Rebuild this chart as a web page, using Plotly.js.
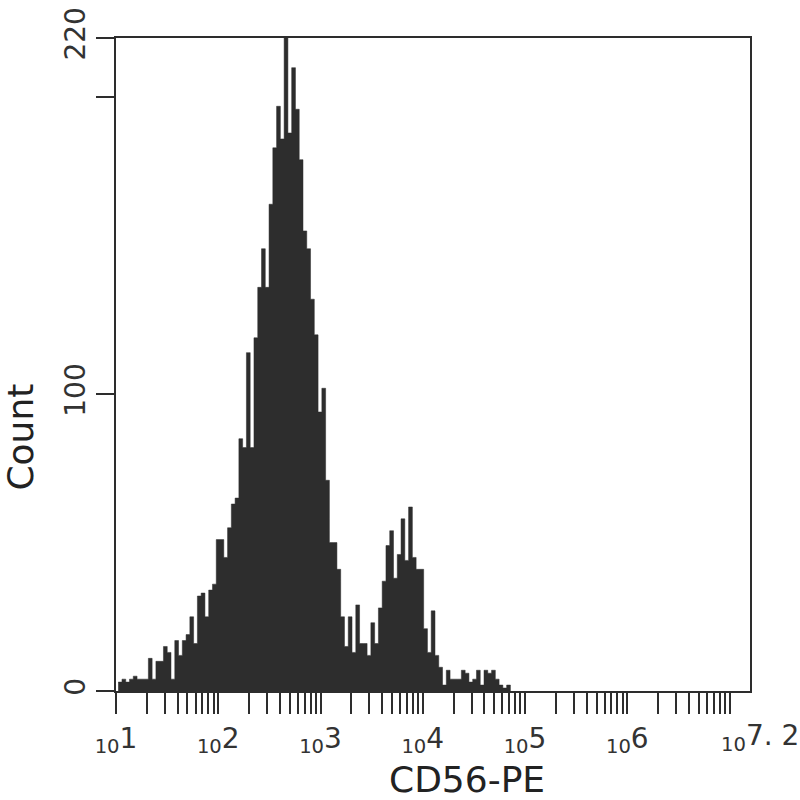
<!DOCTYPE html>
<html>
<head>
<meta charset="utf-8">
<script src="https://cdn.plot.ly/plotly-3.0.1.min.js"></script>
<style>html,body{margin:0;padding:0;background:#fff;}#chart{width:800px;height:800px;}</style>
</head>
<body>
<div id="chart"></div>
<script>
// Histogram bins (log10 of CD56-PE), equal width in log space
const binStartLog = 1.0215;
const binWidthLog = 0.03688;
const counts = [
  3, 4, 3, 4, 5, 4, 4, 4, 11, 4,
  10, 10, 15, 13, 4, 17, 12, 17, 19, 25,
  16, 32, 33, 25, 34, 36, 51, 51, 45, 55,
  63, 65, 85, 82, 114, 82, 119, 136, 149, 136,
  164, 183, 197, 186, 220, 188, 210, 196, 179, 155,
  149, 132, 120, 94, 102, 71, 50, 50, 41, 25,
  15, 25, 13, 29, 16, 16, 12, 23, 16, 28,
  37, 49, 54, 38, 46, 58, 44, 62, 45, 41,
  41, 21, 13, 27, 12, 8, 2, 7, 4, 4,
  4, 7, 6, 3, 4, 7, 2, 7, 6, 7,
  4, 2, 1, 2
];
const labelledExponents = [1, 2, 3, 4, 5, 6];
const minorMultipliers = [2, 3, 4, 5, 6, 7, 8, 9];
const yTickVals = [0, 100, 220];
const yTickText = ["0", "100", "220"];
const yMinorTickVals = [200];
const xTitle = "CD56-PE";
const yTitle = "Count";
const xEndLabel = "<sub>10</sub>7. 2";

const ink = "#2d2d2d";
const FONT = "DejaVu Sans, Verdana, sans-serif";

// step outline of the histogram (bin left edges + final right edge)
const xs = [], ys = [];
counts.forEach((c, i) => { xs.push(Math.pow(10, binStartLog + i * binWidthLog)); ys.push(c); });
xs.push(Math.pow(10, binStartLog + counts.length * binWidthLog)); ys.push(0);

// x ticks: labelled decades; unlabelled ticks at 2..9 x 10^n and at 10^7
const xTickVals = labelledExponents.map(e => Math.pow(10, e));
const xTickText = labelledExponents.map(e => "<sub>10</sub>" + e);
const xMinorVals = [];
labelledExponents.forEach(e => minorMultipliers.forEach(m => xMinorVals.push(m * Math.pow(10, e))));
xMinorVals.push(Math.pow(10, 7));

const trace = {
  type: "scatter", mode: "lines", x: xs, y: ys,
  line: { shape: "hv", width: 0.5, color: ink },
  fill: "tozeroy", fillcolor: ink, hoverinfo: "skip", showlegend: false
};

const layout = {
  width: 800, height: 800,
  margin: { l: 116, r: 50, t: 38, b: 109, pad: 0 },
  paper_bgcolor: "#fff", plot_bgcolor: "#fff",
  font: { family: FONT, color: "#333", size: 28 },
  showlegend: false,
  xaxis: {
    type: "log", range: [1, 7.2], autorange: false,
    tickmode: "array", tickvals: xTickVals, ticktext: xTickText,
    ticks: "outside", ticklen: 21, tickwidth: 2, tickcolor: ink,
    minor: { tickmode: "array", tickvals: xMinorVals, ticks: "outside",
             ticklen: 21, tickwidth: 2, tickcolor: ink, showgrid: false },
    showline: true, linecolor: ink, linewidth: 2, mirror: true,
    showgrid: false, zeroline: false,
    tickfont: { family: FONT, size: 28, color: "#333" }, tickangle: 0
  },
  yaxis: {
    range: [0, 220], autorange: false,
    tickmode: "array", tickvals: yTickVals, ticktext: yTickText,
    ticks: "outside", ticklen: 18, tickwidth: 2, tickcolor: ink,
    minor: { tickmode: "array", tickvals: yMinorTickVals, ticks: "outside",
             ticklen: 18, tickwidth: 2, tickcolor: ink, showgrid: false },
    showline: true, linecolor: ink, linewidth: 2, mirror: true,
    showgrid: false, zeroline: false,
    tickfont: { family: FONT, size: 28, color: "#333" }, tickangle: -90
  },
  annotations: [
    { text: xTitle, xref: "paper", yref: "paper", x: 0.5536, y: -0.136,
      xanchor: "center", yanchor: "middle", showarrow: false,
      font: { family: FONT, size: 36, color: "#222" } },
    { text: yTitle, xref: "paper", yref: "paper", x: -0.1505, y: 0.389,
      xanchor: "center", yanchor: "middle", textangle: -90, showarrow: false,
      font: { family: FONT, size: 36, color: "#222" } },
    { text: xEndLabel, xref: "paper", yref: "paper", x: 1.016, y: -0.04,
      xanchor: "center", yanchor: "top", showarrow: false,
      font: { family: FONT, size: 28, color: "#333" } }
  ]
};

Plotly.newPlot("chart", [trace], layout, { displayModeBar: false, staticPlot: true });
</script>
</body>
</html>
